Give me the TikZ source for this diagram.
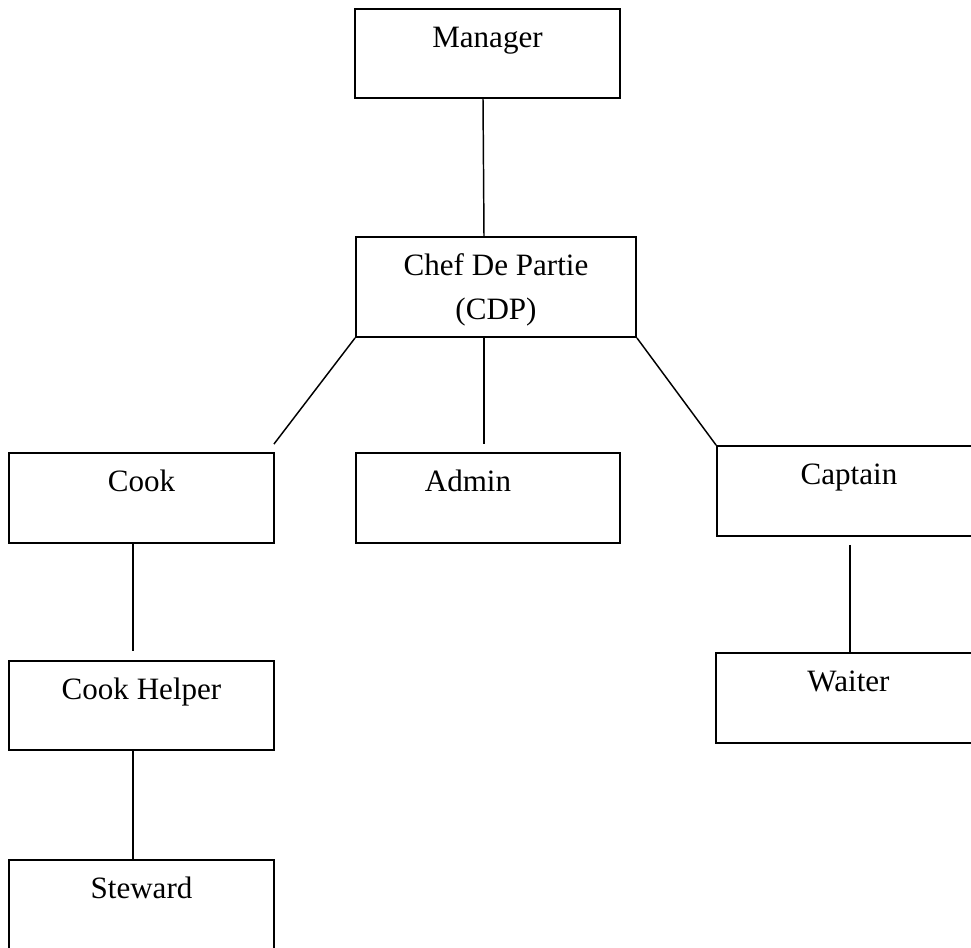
\documentclass[tikz,border=0pt]{standalone}
\usepackage{fontspec}
\setmainfont{Liberation Serif}
\usetikzlibrary{calc}
\begin{document}
\begin{tikzpicture}[x=0.75pt, y=-0.75pt,
		post/.style={draw=black, line width=1.4pt, rectangle, inner sep=0pt, minimum width=198.75pt, minimum height=67.5pt},
		lbl/.style={anchor=base, label distance=-29.25pt, align=center, font=\fontsize{23.3}{33}\selectfont},
		link/.style={draw=black, line width=1.1pt}]
		\useasboundingbox (0,0) rectangle (971,947);
		
		\node[post, minimum height=66.75pt, label={[lbl]north:Manager}] (manager) at (487.5,53.5) {};
		\node[post, minimum width=210pt, minimum height=75pt, label={[lbl, label distance=-62.25pt]north:{Chef De Partie\\(CDP)}}] (cdp) at (496,287) {};
		
		\node[post, label={[lbl]north:Cook}] (cook) at (141.5,498) {};
		\node[post, minimum width=198pt, label={[lbl, xshift=-15pt]north:Admin}] (admin) at (488,498) {};
		\node[post, minimum width=198pt, label={[lbl]north:Captain}] (captain) at (849,491) {};
		
		\node[post, minimum height=66.75pt, label={[lbl]north:Cook Helper}] (helper) at (141.5,705.5) {};
		\node[post, label={[lbl]north:Waiter}] (waiter) at (848.5,698) {};
		\node[post, label={[lbl]north:Steward}] (steward) at (141.5,905) {};
		
		\draw[link] ($(manager.south)+(-4.5,0)$) -- ($(cdp.north)+(-12,0)$);
		\draw[link] (cdp.south west) -- ($(cook.north east)+(-1,-8)$);
		\draw[link] ($(cdp.south)+(-12,0)$) -- ($(admin.north)+(-4,-8)$);
		\draw[link] (cdp.south east) -- (captain.north west);
		\draw[link] ($(cook.south)+(-8.5,0)$) -- ($(helper.north)+(-8.5,-9)$);
		\draw[link] ($(helper.south)+(-8.5,0)$) -- ($(steward.north)+(-8.5,0)$);
		\draw[link] ($(captain.south)+(1,8)$) -- ($(waiter.north)+(1.5,0)$);
		
	\end{tikzpicture}
\end{document}
